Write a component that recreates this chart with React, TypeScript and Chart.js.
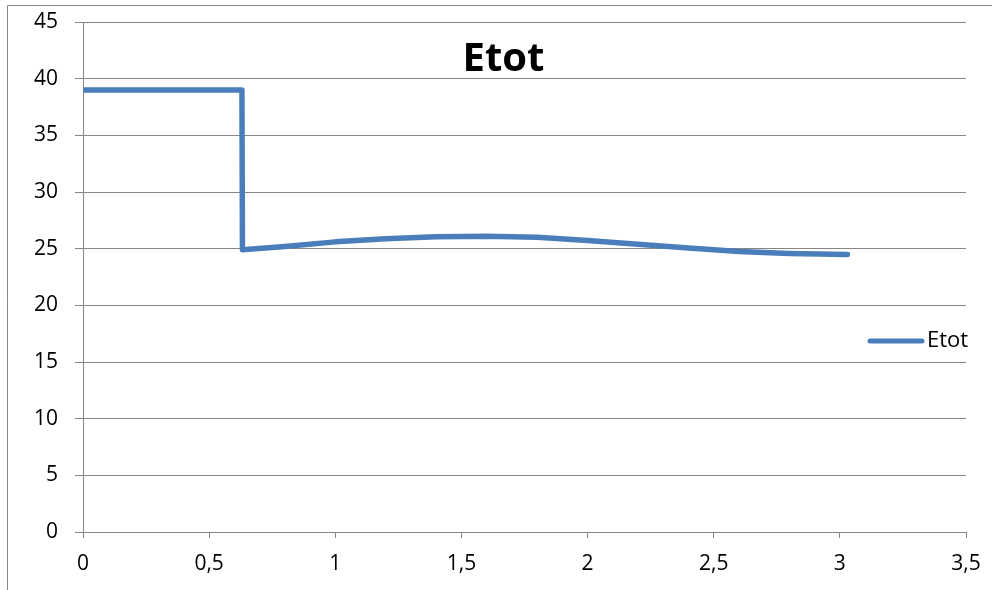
import React, { useEffect, useRef } from "react";
import { Chart, registerables } from "chart.js";

Chart.register(...registerables);

const seriesName = "Etot";
const xValues = [0, 0.63, 0.632, 0.8, 1.0, 1.2, 1.4, 1.6, 1.8, 2.0, 2.2, 2.4, 2.6, 2.8, 3.03];
const yValues = [39, 39, 24.9, 25.2, 25.6, 25.88, 26.05, 26.1, 26.0, 25.72, 25.4, 25.05, 24.75, 24.58, 24.48];
const xTicks = { min: 0, max: 3.5, step: 0.5 };
const yTicks = { min: 0, max: 45, step: 5 };

const BLUE = "#4a7ebb";
const GRAY = "#868686";
const FONT = "'Open Sans', 'Liberation Sans', sans-serif";

export default function App() {
  const ref = useRef<HTMLCanvasElement | null>(null);

  useEffect(() => {
    if (!ref.current) return;
    const decor = {
      id: "decor",
      beforeDraw(chart: any) {
        const ctx = chart.ctx;
        ctx.save();
        ctx.fillStyle = "#ffffff";
        ctx.fillRect(0, 0, chart.width, chart.height);
        ctx.strokeStyle = GRAY;
        ctx.lineWidth = 1;
        ctx.beginPath();
        ctx.moveTo(7.5, chart.height);
        ctx.lineTo(7.5, 5.5);
        ctx.lineTo(chart.width, 5.5);
        ctx.stroke();
        ctx.restore();
      },
      afterDraw(chart: any) {
        const ctx = chart.ctx;
        ctx.save();
        ctx.fillStyle = "#000";
        ctx.font = `bold 40px ${FONT}`;
        ctx.textAlign = "center";
        ctx.textBaseline = "alphabetic";
        ctx.fillText(seriesName, 503.5, 71);
        ctx.strokeStyle = BLUE;
        ctx.lineWidth = 5;
        ctx.lineCap = "round";
        ctx.beginPath();
        ctx.moveTo(870, 341);
        ctx.lineTo(922, 341);
        ctx.stroke();
        ctx.font = `22px ${FONT}`;
        ctx.textAlign = "left";
        ctx.fillText(seriesName, 927, 347);
        ctx.restore();
      },
    };
    const chart = new Chart(ref.current, {
      type: "line",
      data: {
        datasets: [
          {
            label: seriesName,
            data: xValues.map((x, i) => ({ x, y: yValues[i] })),
            borderColor: BLUE,
            backgroundColor: BLUE,
            borderWidth: 5.5,
            borderJoinStyle: "round",
            borderCapStyle: "round",
            pointRadius: 0,
            tension: 0,
            fill: false,
          },
        ],
      },
      options: {
        animation: false,
        responsive: false,
        devicePixelRatio: 1,
        layout: { padding: { left: 0, top: 22, right: 26, bottom: 0 } },
        plugins: { legend: { display: false }, title: { display: false }, tooltip: { enabled: false } },
        scales: {
          x: {
            type: "linear",
            min: xTicks.min,
            max: xTicks.max,
            afterFit(scale: any) {
              scale.height = 58;
              scale.paddingLeft = 0;
              scale.paddingRight = 0;
            },
            ticks: {
              stepSize: xTicks.step,
              color: "#000",
              font: { family: FONT, size: 21 },
              padding: 13,
              maxRotation: 0,
              callback: (v: any) => String(v).replace(".", ","),
            },
            grid: { drawOnChartArea: false, drawTicks: true, tickLength: 6, color: GRAY },
            border: { display: true, color: GRAY },
          },
          y: {
            type: "linear",
            min: yTicks.min,
            max: yTicks.max,
            afterFit(scale: any) {
              scale.width = 83;
              scale.paddingTop = 0;
              scale.paddingBottom = 0;
            },
            ticks: {
              stepSize: yTicks.step,
              color: "#000",
              font: { family: FONT, size: 21 },
              padding: 17,
            },
            grid: { drawTicks: true, tickLength: 8, color: GRAY },
            border: { display: true, color: GRAY },
          },
        },
      },
      plugins: [decor],
    } as any);
    return () => chart.destroy();
  }, []);

  return (
    <div style={{ position: "fixed", left: 0, top: 0, width: 992, height: 590, background: "#fff" }}>
      <canvas ref={ref} width={992} height={590} style={{ display: "block" }} />
    </div>
  );
}
